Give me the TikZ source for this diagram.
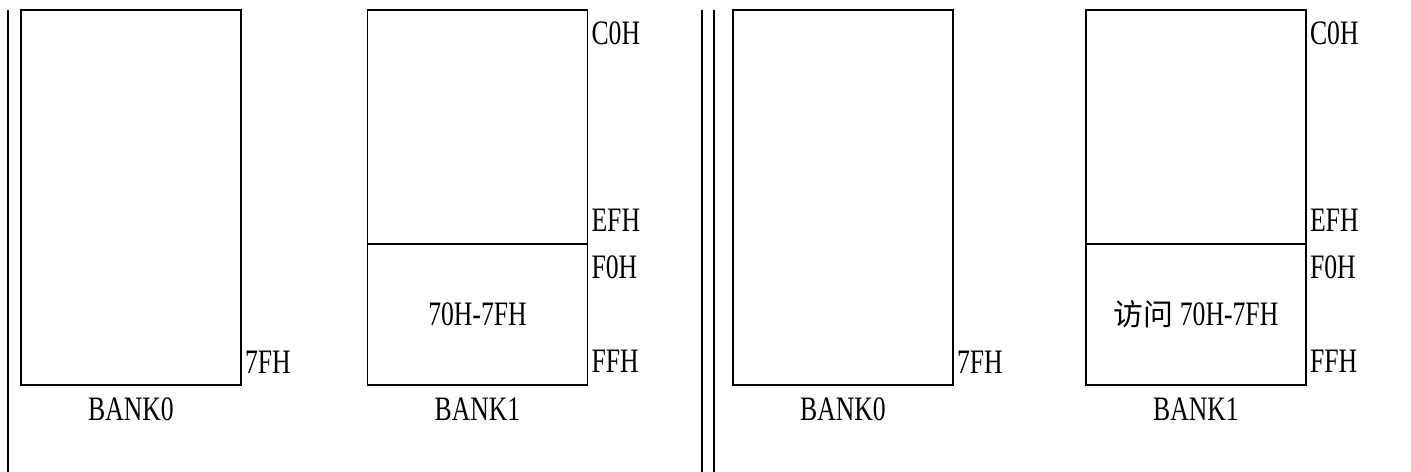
\documentclass[tikz,border=0pt]{standalone}
\usepackage{fontspec}
\setmainfont[FakeStretch=0.75]{Liberation Serif}
\newfontfamily\cjk{Noto Sans CJK SC}
\usetikzlibrary{positioning}
\tikzset{
  bank/.style={rectangle, draw=black, line width=0.8pt, minimum width=4.4cm,
               minimum height=7.5cm, inner sep=0pt},
  lowpart/.style={rectangle, draw=black, line width=0.8pt, minimum width=4.4cm,
                  minimum height=2.82cm, inner sep=0pt, anchor=south,
                  font=\fontsize{19.5}{22}\selectfont},
  addr/.style={inner sep=0pt, anchor=base west, font=\fontsize{19.5}{22}\selectfont},
  banklabel/.style={inner sep=0pt, anchor=base, font=\fontsize{19.5}{22}\selectfont},
  divider/.style={line width=0.8pt, draw=black}
}

\begin{document}
\begin{tikzpicture}[x=0.02cm, y=-0.02cm]
\useasboundingbox (0,0) rectangle (1411,472);
% separating lines
\coordinate (sl-t) at (8,10);   \coordinate (sl-b) at (8,472);
\coordinate (sm1-t) at (702,10); \coordinate (sm1-b) at (702,472);
\coordinate (sm2-t) at (714,10); \coordinate (sm2-b) at (714,472);
\draw[divider] (sl-t) -- (sl-b);
\draw[divider] (sm1-t) -- (sm1-b);
\draw[divider] (sm2-t) -- (sm2-b);

% left half
\node[bank] (lb0) at (131,197.5) {};
\node[addr] (lb0end) at ([xshift=0.06cm, yshift=0.24cm]lb0.south east) {7FH};
\node[banklabel] (lb0name) at ([yshift=-0.7cm]lb0.south) {BANK0};

\node[bank] (lb1) at (477.5,197.5) {};
\node[lowpart] (lb1low) at (lb1.south) {70H-7FH};
\node[addr] (lb1c0) at ([xshift=0.06cm, yshift=-0.7cm]lb1.north east) {C0H};
\node[addr] (lb1ef) at ([xshift=0.06cm, yshift=0.24cm]lb1low.north east) {EFH};
\node[addr] (lb1f0) at ([xshift=0.06cm, yshift=-0.7cm]lb1low.north east) {F0H};
\node[addr] (lb1ff) at ([xshift=0.06cm, yshift=0.26cm]lb1.south east) {FFH};
\node[banklabel] (lb1name) at ([yshift=-0.7cm]lb1.south) {BANK1};

% right half
\node[bank] (rb0) at (843,197.5) {};
\node[addr] (rb0end) at ([xshift=0.06cm, yshift=0.24cm]rb0.south east) {7FH};
\node[banklabel] (rb0name) at ([yshift=-0.7cm]rb0.south) {BANK0};

\node[bank] (rb1) at (1196,197.5) {};
\node[lowpart] (rb1low) at (rb1.south) {{\cjk\fontsize{17}{20}\selectfont 访问} 70H-7FH};
\node[addr] (rb1c0) at ([xshift=0.06cm, yshift=-0.7cm]rb1.north east) {C0H};
\node[addr] (rb1ef) at ([xshift=0.06cm, yshift=0.24cm]rb1low.north east) {EFH};
\node[addr] (rb1f0) at ([xshift=0.06cm, yshift=-0.7cm]rb1low.north east) {F0H};
\node[addr] (rb1ff) at ([xshift=0.06cm, yshift=0.26cm]rb1.south east) {FFH};
\node[banklabel] (rb1name) at ([yshift=-0.7cm]rb1.south) {BANK1};
\end{tikzpicture}
\end{document}
